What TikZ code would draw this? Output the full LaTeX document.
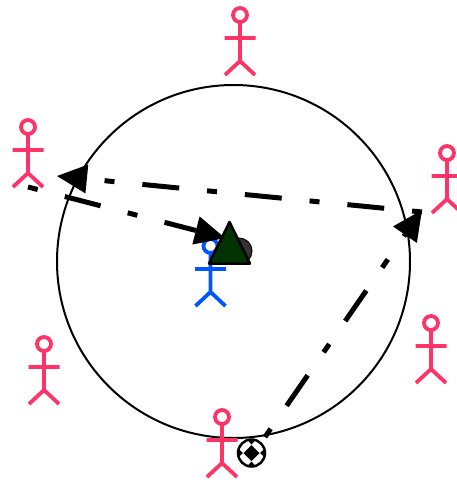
\documentclass[tikz,border=0pt]{standalone}
\usetikzlibrary{arrows.meta}
\definecolor{actorpink}{HTML}{FF3366}
\definecolor{actorblue}{HTML}{0055FF}
\definecolor{darkgreen}{HTML}{003300}
\tikzset{
  x=1pt,y=-1pt,
  actorline/.style={line width=3.8pt,line cap=butt},
  pass/.style={line width=5pt,black,dash pattern=on 10pt off 28pt on 37pt off 28pt,
    -{Triangle[length=30pt,width=29pt,line width=0pt]}},
  pics/actor/.style={code={
    \draw[actorline,#1] (0,0) circle[radius=7pt];
    \draw[actorline,#1] (0,7) -- (0,46) (-15.5,23) -- (15.5,23)
      (-15,60) -- (0,46) -- (15,60);
  }}
}
\begin{document}
\begin{tikzpicture}
\useasboundingbox (0,0) rectangle (456,482);
\node[circle,draw=black,line width=2pt,minimum size=353pt,inner sep=0pt] (ring) at (233.5,261.5) {};
\pic at (240,15) {actor=actorpink};
\pic at (28,127) {actor=actorpink};
\pic at (447,153) {actor=actorpink};
\pic at (44,344) {actor=actorpink};
\pic at (431,323) {actor=actorpink};
\pic at (222,417) {actor=actorpink};
\pic at (210.5,246) {actor=actorblue};
\node[circle,fill=black!80,draw=black,line width=1pt,minimum size=26pt,inner sep=0pt] (ball) at (239,251) {};
\coordinate (a) at (265,437);
\coordinate (b) at (422,210);
\coordinate (c) at (422,212);
\coordinate (d) at (57,176);
\coordinate (e) at (28,187);
\coordinate (f) at (225,238);
\draw[pass] (a) -- (b);
\draw[pass] (c) -- (d);
\draw[pass] (e) -- (f);
\draw[fill=darkgreen,draw=black,line width=2.5pt,line join=round] (229.5,222) -- (209,263.5) -- (250,263.5) -- cycle;
\node[circle,draw=black,line width=2.5pt,minimum size=27pt,inner sep=0pt] (target) at (251.5,453) {};
\fill[black] (251.5,445) -- (255.5,449) -- (259.5,453) -- (255.5,457) -- (251.5,461) -- (247.5,457) -- (243.5,453) -- (247.5,449) -- cycle;
\fill[black] (247,439.5) -- (256,439.5) -- (251.5,444.5) -- cycle
  (247,466.5) -- (256,466.5) -- (251.5,461.5) -- cycle
  (238,448.5) -- (238,457.5) -- (243,453) -- cycle
  (265,448.5) -- (265,457.5) -- (260,453) -- cycle;
\end{tikzpicture}
\end{document}
